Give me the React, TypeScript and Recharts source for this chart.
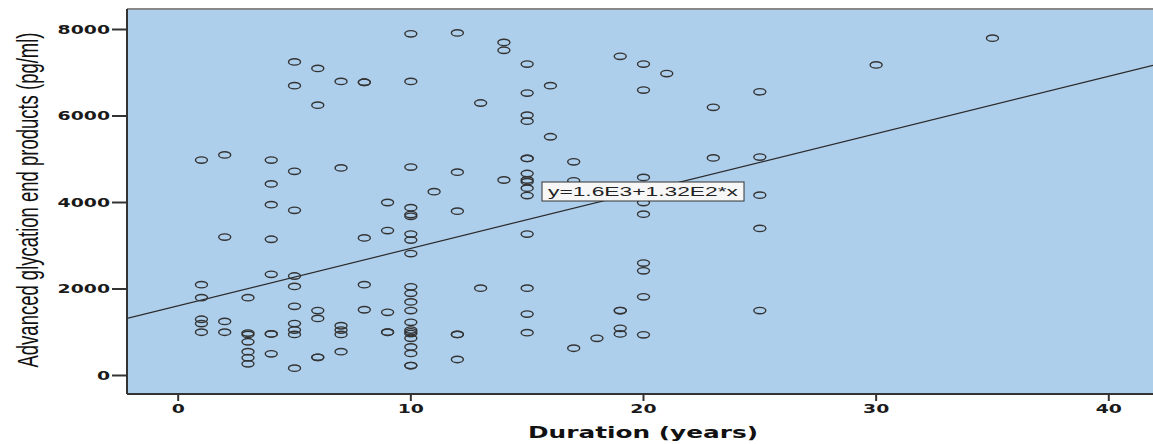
import React from 'react';
import {
    ComposedChart,
    Scatter,
    Line,
    XAxis,
    YAxis,
    CartesianGrid,
    ReferenceLine,
    Customized
} from 'recharts';

// duration (years) -> AGE values (pg/ml), one column per duration
const durations = [1, 2, 3, 4, 5, 6, 7, 8, 9, 10, 11, 12, 13, 14, 15, 16, 17, 18, 19, 20, 21, 23, 25, 30, 35];
const ageColumns = [
    [4980, 2100, 1800, 1300, 1200, 1000],
    [5100, 3200, 1250, 1000],
    [1800, 980, 950, 780, 550, 410, 270],
    [4980, 4430, 3950, 3150, 2340, 960, 960, 500],
    [7250, 6700, 4720, 3820, 2300, 2060, 1600, 1200, 1050, 950, 170],
    [7100, 6250, 1500, 1320, 420, 420],
    [6800, 4800, 1150, 1050, 950, 550],
    [6780, 6780, 3180, 2100, 1520],
    [4000, 3350, 1460, 1000, 1000],
    [7900, 6800, 4820, 3880, 3720, 3680, 3270, 3130, 2820, 2050, 1900, 1700, 1500, 1230, 1050, 1010, 970, 860, 660, 510, 230, 230],
    [4250],
    [7920, 4700, 3800, 950, 950, 370],
    [6300, 2020],
    [7700, 7520, 4520],
    [7200, 6530, 6020, 5880, 5020, 5020, 4670, 4520, 4480, 4330, 4160, 3270, 2020, 1420, 990],
    [6700, 5520],
    [4940, 4500, 630],
    [860],
    [7380, 1500, 1500, 1090, 960],
    [7200, 6600, 4580, 4000, 3730, 2600, 2420, 1820, 940],
    [6980],
    [6200, 5030],
    [6560, 5050, 4170, 3400, 1500],
    [7180],
    [7800]
];

// fit line end points, as drawn at the plot edges
const fitX = [-2.2, 41.9];
const fitY = [1320, 7170];

const xTicks = [0, 10, 20, 30, 40];
const yTicks = [0, 2000, 4000, 6000, 8000];
const xDomain: [number, number] = [-2.2, 41.9];
const yDomain: [number, number] = [-428, 8474];

const equationText = 'y=1.6E3+1.32E2*x';
const xTitle = 'Duration (years)';
const yTitle = 'Advanced glycation end products (pg/ml)';

const points = durations.flatMap((d, i) => ageColumns[i].map(v => ({ x: d, y: v })));
const fitLine = fitX.map((x, i) => ({ x, y: fitY[i] }));

const tickFont = { fontFamily: 'DejaVu Sans', fontWeight: 'bold' as const, fontSize: 13, fill: '#1a1a1a' };

function YTick({ x, y, payload }: any) {
    return (
        <text transform={`translate(${x},${y}) scale(1.45,1)`} textAnchor="end" dominantBaseline="central" {...tickFont}>
            {payload.value}
        </text>
    );
}

function XTick({ x, y, payload }: any) {
    return (
        <text transform={`translate(${x},${y + 6}) scale(1.45,1)`} textAnchor="middle" dominantBaseline="central" {...tickFont}>
            {payload.value}
        </text>
    );
}

function Ring(props: any) {
    const { cx, cy } = props;
    if (cx == null || cy == null) return <g />;
    return <ellipse cx={cx} cy={cy} rx={6} ry={3.2} fill="none" stroke="#333" strokeWidth={1.4} />;
}

function Titles() {
    return (
        <g>
            <text
                transform="translate(38,200) rotate(-90) scale(1,1.95)"
                textAnchor="middle"
                fontFamily="Liberation Sans"
                fontSize={15}
                fill="#111"
                textLength={335}
                lengthAdjust="spacingAndGlyphs"
            >
                {yTitle}
            </text>
            <text
                x={643}
                y={438}
                textAnchor="middle"
                fontFamily="DejaVu Sans"
                fontWeight="bold"
                fontSize={15}
                fill="#111"
                textLength={230}
                lengthAdjust="spacingAndGlyphs"
            >
                {xTitle}
            </text>
        </g>
    );
}

export default function App() {
    return (
        <div style={{ position: 'absolute', left: 0, top: 0, width: 1153, height: 444, background: '#fff' }}>
            <ComposedChart width={1153} height={444} margin={{ top: 9, right: 0, bottom: 0, left: 0 }}>
                <CartesianGrid horizontal={false} vertical={false} fill="#AECFEC" fillOpacity={1} />
                <XAxis
                    dataKey="x"
                    type="number"
                    domain={xDomain}
                    ticks={xTicks}
                    allowDataOverflow
                    height={50}
                    tickSize={7}
                    tickMargin={2}
                    tick={<XTick />}
                    axisLine={{ stroke: '#333', strokeWidth: 2 }}
                    tickLine={{ stroke: '#333', strokeWidth: 2 }}
                />
                <YAxis
                    dataKey="y"
                    type="number"
                    domain={yDomain}
                    ticks={yTicks}
                    allowDataOverflow
                    width={127}
                    tickSize={15}
                    tickMargin={2}
                    tick={<YTick />}
                    axisLine={{ stroke: '#333', strokeWidth: 2 }}
                    tickLine={{ stroke: '#333', strokeWidth: 2 }}
                />
                <ReferenceLine y={yDomain[1]} stroke="#888" strokeWidth={2} />
                <Line data={fitLine} dataKey="y" stroke="#2a2a2a" strokeWidth={1.2} dot={false} activeDot={false} isAnimationActive={false} />
                <Scatter data={points} dataKey="y" shape={<Ring />} isAnimationActive={false} />
                <Customized component={<Titles />} />
            </ComposedChart>
            {/* fit-line equation box sits on top of the line */}
            <svg width={1153} height={444} style={{ position: 'absolute', left: 0, top: 0, pointerEvents: 'none' }}>
                <rect x={542} y={182} width={202} height={19} fill="#f7f7f7" stroke="#333" strokeWidth={1} />
                <text
                    x={643}
                    y={196}
                    textAnchor="middle"
                    fontFamily="Liberation Sans"
                    fontSize={13}
                    fill="#222"
                    textLength={190}
                    lengthAdjust="spacingAndGlyphs"
                >
                    {equationText}
                </text>
            </svg>
        </div>
    );
}
